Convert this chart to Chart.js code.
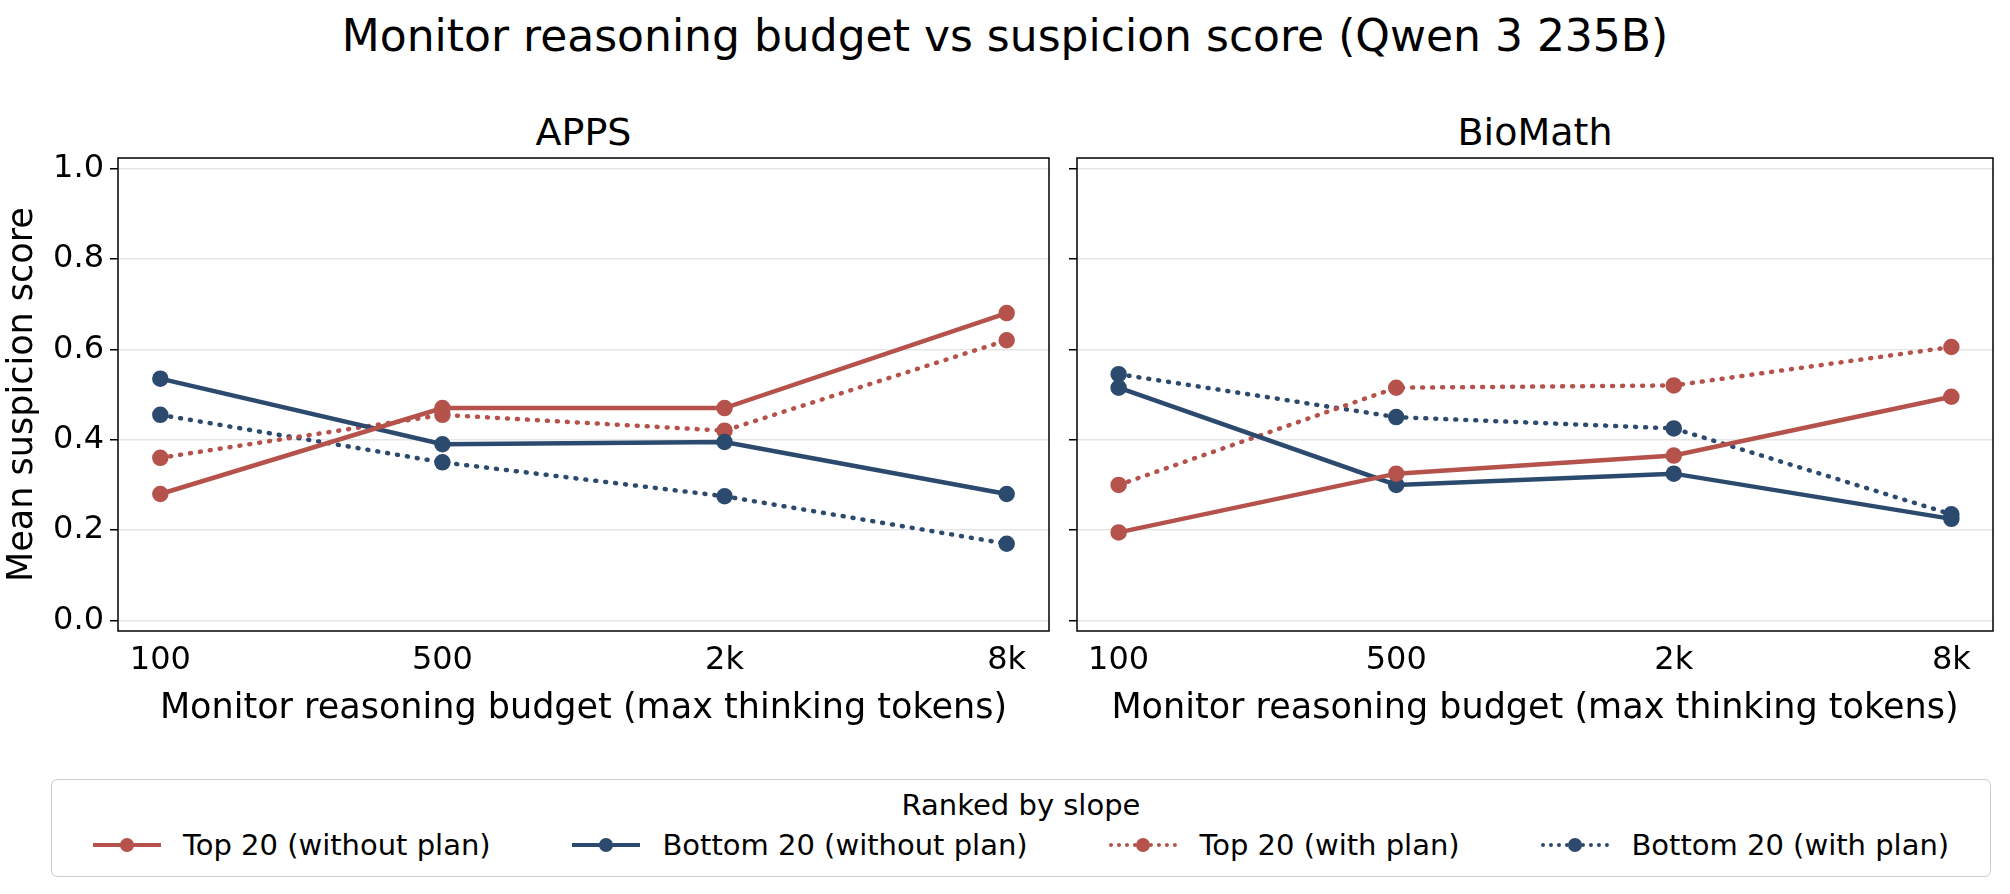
<!DOCTYPE html>
<html>
<head>
<meta charset="utf-8">
<script src="https://cdn.jsdelivr.net/npm/chart.js@4"></script>
<style>
  body { margin: 0; width: 2010px; height: 894px; background: #fff; font-family: "DejaVu Sans", sans-serif; position: relative; overflow: hidden; }
  .abs { position: absolute; }
  #title { left: 0; width: 2010px; top: 10px; text-align: center; font-size: 44px; }
  .sub { top: 110px; font-size: 38px; text-align: center; }
  #legend { left: 51px; top: 779px; width: 1940px; height: 98px; border: 1.5px solid #ccc; border-radius: 6px; box-sizing: border-box; }
  #legend .head { text-align: center; font-size: 29px; margin-top: 8px; }
  #legend .items { display: flex; justify-content: space-around; margin-top: 6px; font-size: 29px; }
  .item { display: flex; align-items: center; }
  .swatch { position: relative; width: 68px; height: 20px; margin-right: 22px; }
  .swatch .ln { position: absolute; left: 0; right: 0; top: 8px; }
  .swatch .dot { position: absolute; left: 27px; top: 3px; width: 14px; height: 14px; border-radius: 50%; }
</style>
</head>
<body>
<div id="title" class="abs">Monitor reasoning budget vs suspicion score (Qwen 3 235B)</div>
<div class="abs sub" style="left:118px;width:931px">APPS</div>
<div class="abs sub" style="left:1077px;width:916px">BioMath</div>
<canvas id="c1" class="abs" style="left:0;top:110px"></canvas>
<canvas id="c2" class="abs" style="left:1060px;top:110px"></canvas>
<div id="legend" class="abs">
  <div class="head">Ranked by slope</div>
  <div class="items" id="items"></div>
</div>
<script>
const budgets = ['100', '500', '2k', '8k'];
const seriesNames = ['Top 20 (without plan)', 'Bottom 20 (without plan)', 'Top 20 (with plan)', 'Bottom 20 (with plan)'];

const appsTopNoPlan = [0.28, 0.47, 0.47, 0.68];
const appsBottomNoPlan = [0.535, 0.39, 0.395, 0.28];
const appsTopPlan = [0.36, 0.455, 0.42, 0.62];
const appsBottomPlan = [0.455, 0.35, 0.275, 0.17];

const bioTopNoPlan = [0.195, 0.325, 0.365, 0.495];
const bioBottomNoPlan = [0.515, 0.30, 0.325, 0.225];
const bioTopPlan = [0.30, 0.515, 0.52, 0.605];
const bioBottomPlan = [0.545, 0.45, 0.425, 0.235];

const yTicks = [0, 0.2, 0.4, 0.6, 0.8, 1.0];

const RED = '#b5524c';
const BLUE = '#2c4a6e';
const styles = [
  { color: RED, dash: [] },
  { color: BLUE, dash: [] },
  { color: RED, dash: [1, 9] },
  { color: BLUE, dash: [1, 9] }
];

function makeDatasets(arrs) {
  return arrs.map((vals, i) => ({
    label: seriesNames[i],
    data: vals.map((v, j) => ({ x: j, y: v })),
    borderColor: styles[i].color,
    backgroundColor: styles[i].color,
    borderDash: styles[i].dash,
    borderWidth: 4.5,
    pointRadius: 6,
    pointHoverRadius: 6,
    borderCapStyle: 'round'
  }));
}

const frame = {
  id: 'frame',
  afterDraw(chart) {
    const a = chart.chartArea, ctx = chart.ctx;
    ctx.save();
    ctx.strokeStyle = '#000';
    ctx.lineWidth = 1.5;
    ctx.strokeRect(a.left, a.top, a.right - a.left, a.bottom - a.top);
    ctx.restore();
  }
};

function makeChart(id, w, yWidth, padRight, arrs, showY) {
  const cv = document.getElementById(id);
  cv.width = w; cv.height = 620;
  cv.style.width = w + 'px'; cv.style.height = '620px';
  new Chart(cv, {
    type: 'line',
    data: { datasets: makeDatasets(arrs) },
    plugins: [frame],
    options: {
      responsive: false,
      animation: false,
      devicePixelRatio: 1,
      layout: { padding: { top: 48, right: padRight, left: 0, bottom: 0 } },
      plugins: { legend: { display: false }, tooltip: { enabled: false } },
      scales: {
        x: {
          type: 'linear', min: -0.15, max: 3.15,
          afterBuildTicks: s => { s.ticks = budgets.map((b, i) => ({ value: i })); },
          afterFit: s => { s.height = 99; },
          grid: { display: false, drawTicks: true, tickLength: 8, tickColor: '#000' },
          border: { display: false },
          ticks: { color: '#000', font: { size: 32, family: 'DejaVu Sans' }, padding: 2,
                   callback: v => budgets[v] },
          title: { display: true, text: 'Monitor reasoning budget (max thinking tokens)', color: '#000',
                   font: { size: 35, family: 'DejaVu Sans' }, padding: 0 }
        },
        y: {
          min: -0.023, max: 1.023,
          afterBuildTicks: s => { s.ticks = yTicks.map(v => ({ value: v })); },
          afterFit: s => { s.width = yWidth; },
          grid: { color: '#e5e5e5', lineWidth: 1.5, tickLength: 8, tickColor: '#000' },
          border: { display: false },
          ticks: { display: true, color: showY ? '#000' : 'rgba(0,0,0,0)',
                   font: { size: 32, family: 'DejaVu Sans' }, padding: 6,
                   callback: v => v.toFixed(1) },
          title: { display: showY, text: 'Mean suspicion score', color: '#000',
                   font: { size: 35, family: 'DejaVu Sans' }, padding: 2 }
        }
      }
    }
  });
}

makeChart('c1', 1060, 118, 11, [appsTopNoPlan, appsBottomNoPlan, appsTopPlan, appsBottomPlan], true);
makeChart('c2', 950, 17, 17, [bioTopNoPlan, bioBottomNoPlan, bioTopPlan, bioBottomPlan], false);

const items = document.getElementById('items');
seriesNames.forEach((n, i) => {
  const s = styles[i];
  const border = s.dash.length ? `4px dotted ${s.color}` : `4px solid ${s.color}`;
  const el = document.createElement('div');
  el.className = 'item';
  el.innerHTML = `<div class="swatch"><div class="ln" style="border-top:${border}"></div>
    <div class="dot" style="background:${s.color}"></div></div><span>${n}</span>`;
  items.appendChild(el);
});
</script>
</body>
</html>
